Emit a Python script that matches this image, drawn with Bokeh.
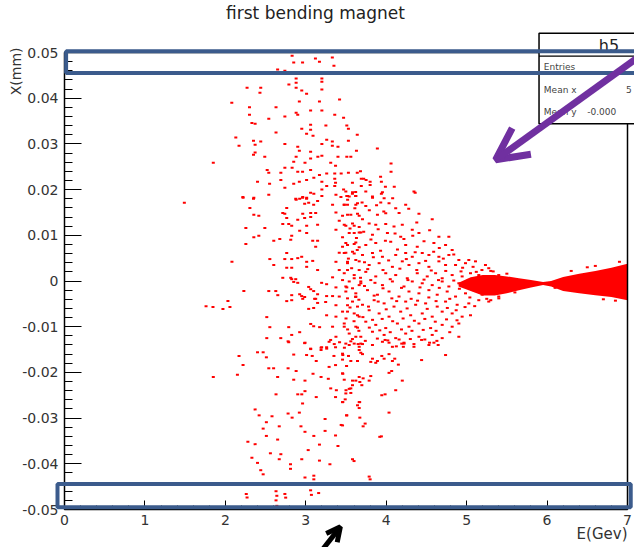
import math
from bokeh.plotting import figure
from bokeh.models import (FixedTicker, BoxAnnotation, Arrow, OpenHead, Label,
                          ColumnDataSource, Range1d)
from bokeh.embed import file_html
from bokeh.resources import INLINE

TITLE = "first bending magnet"
X_LABEL = "E(Gev)"
Y_LABEL = "X(mm)"
x_ticks = [0, 1, 2, 3, 4, 5, 6, 7]
y_ticks = [-0.05, -0.04, -0.03, -0.02, -0.01, 0, 0.01, 0.02, 0.03, 0.04, 0.05]
y_tick_labels = ["-0.05", "-0.04", "-0.03", "-0.02", "-0.01", "0",
                 "0.01", "0.02", "0.03", "0.04", "0.05"]

stats_title = "h5"
stats_names = ["Entries", "Mean x", "Mean y"]
stats_values = ["", "5", "-0.000"]

# --- scattered points (E [GeV], X), by region ---
pts_top = [
    (2.83, 0.0493), (3.12, 0.0487), (3.33, 0.0489), (2.85, 0.0478), (2.96, 0.0478),
    (3.17, 0.048), (3.35, 0.0471), (2.65, 0.0463), (2.74, 0.046), (2.60, 0.0456),
    (2.88, 0.0443), (3.20, 0.0443), (2.79, 0.043), (2.88, 0.0434), (3.20, 0.0436),
    (2.27, 0.0423), (2.44, 0.0423), (2.43, 0.0412), (2.88, 0.0423), (2.95, 0.0417),
    (3.01, 0.041), (3.20, 0.0419), (2.08, 0.039), (2.92, 0.0393), (3.17, 0.0393),
    (3.42, 0.0397), (2.30, 0.038), (2.63, 0.038), (2.88, 0.0368), (3.06, 0.0373),
    (3.20, 0.0373), (2.30, 0.0364), (2.74, 0.036), (2.90, 0.0364), (3.36, 0.0364),
    (3.47, 0.0357), (2.54, 0.0355), (2.33, 0.0346), (2.37, 0.0344), (3.06, 0.0342),
    (3.25, 0.034), (3.51, 0.034), (2.95, 0.0333), (3.06, 0.0331), (2.63, 0.0325),
    (3.01, 0.0322), (3.09, 0.0318), (3.53, 0.0333), (3.64, 0.032), (2.13, 0.0314),
    (2.35, 0.0307), (2.44, 0.0305), (3.26, 0.0309), (3.33, 0.0305), (3.53, 0.0307),
    (2.17, 0.0296), (2.37, 0.0298), (2.74, 0.03), (2.90, 0.0294), (3.20, 0.03),
    (3.33, 0.0296), (3.40, 0.0294), (2.92, 0.0285), (3.06, 0.0283), (3.63, 0.0285),
    (2.37, 0.0281), (2.35, 0.0276), (2.49, 0.0272), (2.88, 0.0272), (3.15, 0.0272),
    (3.20, 0.0274), (3.40, 0.0272), (3.51, 0.0272), (3.56, 0.0272), (1.85, 0.0259),
    (2.85, 0.0261), (2.99, 0.0259), (3.06, 0.0268), (3.31, 0.0259), (3.37, 0.0252),
    (2.74, 0.0248), (2.83, 0.0248), (3.06, 0.0243), (2.52, 0.0243), (2.54, 0.0237),
    (2.69, 0.0237), (2.90, 0.0239), (2.96, 0.0239), (3.17, 0.0232), (3.26, 0.0235),
    (3.36, 0.0235), (3.44, 0.0235), (3.53, 0.0237), (3.64, 0.0237), (3.10, 0.0226),
    (3.36, 0.0224), (3.69, 0.0224), (2.69, 0.0221), (2.40, 0.0217), (3.01, 0.0221),
    (2.92, 0.0217), (3.20, 0.0217), (3.37, 0.0215), (2.55, 0.0213), (2.85, 0.0213),
    (3.26, 0.0208), (3.36, 0.0208), (3.69, 0.0208), (2.74, 0.0204), (3.20, 0.02),
    (3.47, 0.02), (3.06, 0.0193), (2.54, 0.0189), (3.10, 0.0191), (3.58, 0.0191),
    (2.22, 0.0182), (2.35, 0.018), (2.96, 0.0182), (3.20, 0.0186), (3.51, 0.0186),
    (3.62, 0.0186), (2.88, 0.0178), (3.01, 0.018),
    (3.89, 0.029), (4.06, 0.0257), (4.06, 0.0239), (3.93, 0.0228), (3.94, 0.0217),
    (3.99, 0.0206), (4.10, 0.0206), (3.80, 0.021), (4.36, 0.0193), (3.94, 0.0191),
    (3.83, 0.0182), (3.62, 0.0195), (3.75, 0.0221), (3.80, 0.0217), (3.72, 0.0224),
    (3.58, 0.0215), (3.68, 0.024),
]

pts_mid_left = [
    (1.49, 0.0171), (2.255, 0.0081), (2.218, 0.0184), (2.354, 0.0182), (2.305, 0.016),
    (2.354, 0.0145), (2.416, 0.0143), (2.255, 0.0116), (2.491, 0.0116), (2.354, 0.0096),
    (2.416, 0.0099), (2.602, 0.0088), (2.677, 0.0092), (2.714, 0.0125), (2.763, 0.016),
    (2.714, 0.0149), (2.739, 0.0147), (2.763, 0.0138), (2.788, 0.0125), (2.825, 0.0121),
    (2.900, 0.0134), (2.825, 0.0099), (2.813, 0.009), (2.924, 0.011), (3.011, 0.0121),
    (2.875, 0.018), (2.924, 0.018), (2.962, 0.0184), (3.011, 0.0182), (3.036, 0.0171),
    (2.986, 0.0169), (3.147, 0.0175), (3.098, 0.0167), (2.962, 0.0147), (3.061, 0.0149),
    (3.123, 0.0149), (2.986, 0.0138), (3.061, 0.014), (3.147, 0.0123), (3.011, 0.0105),
    (3.086, 0.0088), (3.147, 0.0088), (3.123, 0.0075), (2.082, 0.0042), (2.763, 0.0061),
    (2.739, 0.0048), (2.553, 0.0048), (2.602, 0.0035), (2.825, 0.0048), (2.900, 0.005),
    (2.949, 0.0053), (3.011, 0.0042), (2.763, 0.0029), (2.825, 0.0029), (2.714, 0.0007),
    (2.813, 0.0007), (2.825, 0.0004), (2.875, 0.0004), (2.850, -0.0002), (2.900, -0.0004),
    (3.011, 0.0031), (3.086, 0.0044), (3.147, 0.0024), (3.197, -0.0004), (3.259, -0.0007),
    (3.036, -0.0013), (2.230, -0.0022), (2.540, -0.0022), (2.627, -0.0022), (2.652, -0.0031),
    (2.825, -0.0031), (2.924, -0.0029), (2.949, -0.0033), (2.986, -0.0035), (2.962, -0.0039),
    (3.110, -0.0039), (3.123, -0.0039), (3.061, -0.0018), (3.098, -0.0022), (3.147, -0.0029),
    (3.259, -0.0033), (3.333, -0.0033), (2.763, -0.0044), (2.825, -0.0042), (2.032, -0.0044),
    (1.760, -0.0055), (1.846, -0.0057), (1.970, -0.0061), (2.057, -0.0057), (3.036, -0.0061),
    (3.098, -0.0059), (3.147, -0.0048), (3.247, -0.0046), (2.515, -0.0079), (2.553, -0.0101),
    (2.788, -0.0101), (2.924, -0.0112), (2.825, -0.0118), (3.061, -0.0094), (3.098, -0.0099),
    (3.172, -0.0101), (3.259, -0.0075), (2.515, -0.0125), (2.689, -0.0125), (2.788, -0.0134),
    (2.986, -0.0136), (3.061, -0.0149), (3.197, -0.0145), (3.259, -0.0145), (3.309, -0.0129),
    (3.375, 0.0189), (3.437, 0.0184), (3.519, 0.0186), (3.622, 0.0186), (3.333, 0.0167),
    (3.478, 0.0167), (3.519, 0.0167), (3.622, 0.0167), (3.375, 0.015), (3.457, 0.0143),
    (3.560, 0.0145), (3.664, 0.0143), (3.416, 0.0132), (3.498, 0.0121), (3.602, 0.0121),
    (3.664, 0.0118), (3.375, 0.0112), (3.457, 0.0096), (3.602, 0.0105), (3.684, 0.0106),
    (3.457, 0.0075), (3.519, 0.0079), (3.602, 0.0081), (3.664, 0.0074), (3.416, 0.0062),
    (3.498, 0.0062), (3.602, 0.006), (3.375, 0.0042), (3.519, 0.0042), (3.622, 0.0046),
    (3.416, 0.0024), (3.519, 0.0024), (3.664, 0.0024), (3.333, 0.0008), (3.457, 0.0002),
    (3.602, 0.0006), (3.684, -0.0001), (3.375, -0.0014), (3.498, -0.0012), (3.581, -0.0016),
    (3.664, -0.0009), (3.416, -0.0034), (3.519, -0.0038), (3.622, -0.0034), (3.375, -0.0053),
    (3.519, -0.0053), (3.643, -0.0056), (3.457, -0.0067), (3.602, -0.0071), (3.375, -0.0078),
    (3.664, -0.0078), (3.333, -0.01), (3.478, -0.01), (3.643, -0.0102), (3.375, -0.0122),
    (3.622, -0.0122), (3.354, -0.0138), (3.540, -0.014), (3.684, -0.0137),
]

pts_mid_right = [
    (3.498, 0.0196), (3.581, 0.0194), (3.746, 0.0196), (3.953, 0.0194), (4.345, 0.0196),
    (3.540, 0.0185), (3.829, 0.0185), (3.974, 0.0181), (3.478, 0.0167), (3.643, 0.017),
    (3.746, 0.0164), (3.932, 0.0172), (4.035, 0.017), (4.242, 0.0167), (4.118, 0.0159),
    (3.519, 0.0145), (3.643, 0.0147), (3.891, 0.0145), (3.994, 0.0148), (4.407, 0.0147),
    (4.572, 0.0135), (3.705, 0.0135), (3.478, 0.0123), (3.581, 0.0126), (3.788, 0.0126),
    (3.870, 0.0123), (3.994, 0.0125), (4.097, 0.0119), (4.200, 0.0123), (4.324, 0.0112),
    (3.540, 0.0105), (3.664, 0.0106), (3.829, 0.0101), (4.015, 0.0105), (4.180, 0.0097),
    (4.407, 0.0105), (4.655, 0.0097), (4.779, 0.0097), (3.498, 0.0083), (3.622, 0.0084),
    (3.746, 0.0079), (3.870, 0.0083), (4.056, 0.0086), (4.242, 0.0079), (4.386, 0.0075),
    (4.593, 0.0083), (4.738, 0.0079), (4.820, 0.0068), (3.478, 0.0061), (3.581, 0.0064),
    (3.705, 0.0057), (3.829, 0.0061), (3.953, 0.0053), (4.118, 0.0057), (4.242, 0.0061),
    (4.324, 0.0053), (4.448, 0.0061), (4.531, 0.0057), (4.655, 0.0053), (4.779, 0.0057),
    (4.903, 0.0046), (5.027, 0.0046), (3.519, 0.0039), (3.664, 0.0043), (3.788, 0.0035),
    (3.912, 0.0039), (4.077, 0.0031), (4.200, 0.0043), (4.283, 0.0035), (4.407, 0.0039),
    (4.531, 0.0031), (4.655, 0.0043), (4.738, 0.0035), (4.862, 0.0035), (4.986, 0.0039),
    (5.110, 0.0043), (5.234, 0.0035), (5.275, 0.0028), (3.478, 0.0017), (3.602, 0.0013),
    (3.746, 0.002), (3.870, 0.001), (3.994, 0.0017), (4.118, 0.0013), (4.262, 0.0006),
    (4.386, 0.0017), (4.510, 0.001), (4.614, 0.0017), (4.696, 0.0006), (4.820, 0.0013),
    (4.944, 0.001), (5.048, 0.0017), (5.151, 0.0013), (5.275, 0.001), (5.399, 0.0013),
    (3.540, -0.0001), (3.684, -0.0005), (3.808, 0.0002), (3.953, -0.0009), (4.077, -0.0001),
    (4.221, -0.0012), (4.324, -0.0001), (4.448, -0.0005), (4.572, -0.0009), (4.696, -0.0001),
    (4.779, -0.0012), (4.903, -0.0005), (5.006, -0.0009), (5.110, -0.0012), (5.213, -0.0001),
    (5.337, -0.0009), (5.440, -0.0005), (3.498, -0.0023), (3.622, -0.0027), (3.767, -0.002),
    (3.891, -0.003), (4.035, -0.0023), (4.159, -0.0034), (4.283, -0.0023), (4.407, -0.0027),
    (4.531, -0.002), (4.634, -0.003), (4.758, -0.0023), (4.862, -0.0034), (4.986, -0.0027),
    (5.089, -0.002), (5.192, -0.003), (5.316, -0.0023), (5.399, -0.0034), (3.581, -0.0045),
    (3.705, -0.0052), (3.850, -0.0042), (3.974, -0.0049), (4.097, -0.0056), (4.242, -0.0045),
    (4.366, -0.0052), (4.490, -0.0049), (4.634, -0.0056), (4.738, -0.0045), (4.882, -0.0052),
    (5.027, -0.0049), (5.151, -0.0042), (5.275, -0.0045), (3.519, -0.0067), (3.643, -0.0075),
    (3.788, -0.0064), (3.912, -0.0071), (4.035, -0.0078), (4.180, -0.0067), (4.304, -0.0075),
    (4.448, -0.0071), (4.572, -0.0078), (4.696, -0.0067), (4.820, -0.0071), (4.944, -0.0078),
    (5.048, -0.0075), (3.478, -0.0093), (3.622, -0.01), (3.746, -0.0089), (3.870, -0.0096),
    (3.994, -0.0103), (4.139, -0.0093), (4.283, -0.01), (4.407, -0.0093), (4.552, -0.0103),
    (4.696, -0.0096), (4.820, -0.01), (4.903, -0.0093), (3.540, -0.0115), (3.684, -0.0122),
    (3.829, -0.0111), (3.974, -0.0118), (4.118, -0.0125), (4.242, -0.0115), (4.407, -0.0122),
    (4.572, -0.0118), (4.696, -0.0125), (4.903, -0.0122), (3.498, -0.0137), (3.664, -0.0144),
    (3.829, -0.014), (3.953, -0.0133), (4.077, -0.0144), (4.221, -0.0137), (4.345, -0.0144),
    (4.531, -0.014),
    (5.30, 0.0022), (5.50, 0.0016), (5.30, -0.0042), (5.40, -0.0038), (5.60, -0.0025),
    (6.30, 0.0022), (6.50, 0.003), (6.70, -0.004), (6.90, 0.0042), (6.85, -0.0043),
    (6.10, -0.0015), (6.60, 0.0033),
]

pts_core = [
    (3.52, 0.0178), (3.61, 0.0159), (3.70, 0.0172), (3.79, 0.0155), (3.88, 0.0166),
    (3.97, 0.0152), (4.08, 0.0181), (4.16, 0.0149), (4.28, 0.0158), (4.38, 0.0128),
    (3.55, 0.0115), (3.63, 0.0094), (3.72, 0.0108), (3.81, 0.0091), (3.90, 0.0113),
    (3.99, 0.0088), (4.11, 0.0104), (4.22, 0.0092), (4.33, 0.0099), (4.47, 0.0087),
    (4.54, 0.0111), (4.66, 0.0072), (3.53, 0.0049), (3.64, 0.0068), (3.73, 0.0041),
    (3.84, 0.0052), (3.93, 0.0066), (4.03, 0.0045), (4.14, 0.0069), (4.25, 0.0048),
    (4.36, 0.0063), (4.49, 0.0044), (4.59, 0.0064), (4.71, 0.0049), (4.84, 0.0058),
    (4.95, 0.0029), (5.08, 0.0031), (5.19, 0.0024), (3.57, 0.0028), (3.68, 0.0007),
    (3.77, 0.0026), (3.86, -0.0004), (3.96, 0.0024), (4.05, 0.0004), (4.17, 0.0027),
    (4.27, 0.0002), (4.38, 0.0024), (4.47, 0.0003), (4.56, 0.0023), (4.65, 0.0002),
    (4.74, 0.0022), (4.84, 0.0001), (4.93, 0.0021), (5.02, 0.0002), (5.12, 0.0020),
    (5.23, 0.0004), (5.33, 0.0021), (3.51, -0.0014), (3.62, -0.0035), (3.73, -0.0011),
    (3.85, -0.0032), (3.96, -0.0016), (4.07, -0.0038), (4.19, -0.0015), (4.31, -0.0039),
    (4.42, -0.0014), (4.53, -0.0036), (4.66, -0.0015), (4.79, -0.0039), (4.91, -0.0017),
    (5.04, -0.0036), (5.14, -0.0021), (5.25, -0.0039), (5.36, -0.0027), (3.55, -0.0058),
    (3.66, -0.0041), (3.78, -0.0056), (3.90, -0.0045), (4.00, -0.0062), (4.13, -0.0044),
    (4.26, -0.0060), (4.39, -0.0043), (4.51, -0.0061), (4.62, -0.0044), (4.76, -0.0059),
    (4.87, -0.0064), (4.98, -0.0057), (5.10, -0.0055), (3.50, -0.0082), (3.60, -0.0088),
    (3.71, -0.0079), (3.83, -0.0085), (3.95, -0.0083), (4.08, -0.0088), (4.21, -0.0082),
    (4.35, -0.0087), (4.48, -0.0083), (4.61, -0.0089), (4.75, -0.0084), (4.88, -0.0086),
    (3.52, -0.0106), (3.66, -0.0109), (3.79, -0.0102), (3.92, -0.0108), (4.05, -0.0112),
    (4.19, -0.0106), (4.32, -0.0109), (4.46, -0.0107), (4.62, -0.0109), (4.79, -0.0112),
    (3.58, -0.0127), (3.74, -0.0131), (3.89, -0.0126), (4.02, -0.0130), (4.16, -0.0128),
    (4.30, -0.0127), (4.48, -0.0128), (4.63, -0.0131),
]

pts_bottom = [
    (3.560, -0.0132), (3.602, -0.0137), (3.651, -0.0138), (3.705, -0.0138), (3.986, -0.0129),
    (4.035, -0.0135), (4.126, -0.0143), (4.193, -0.0137), (4.221, -0.0135), (4.213, -0.0144),
    (4.345, -0.0138), (4.440, -0.0129), (4.539, -0.0135), (4.593, -0.0135), (4.646, -0.014),
    (4.738, -0.0162), (4.440, -0.0173), (3.457, -0.0159), (3.531, -0.0164), (3.664, -0.0151),
    (3.684, -0.0157), (3.705, -0.016), (3.829, -0.017), (3.891, -0.0175), (3.945, -0.0164),
    (3.974, -0.017), (4.035, -0.016), (4.106, -0.017), (4.077, -0.0175), (4.151, -0.0183),
    (3.457, -0.0172), (3.507, -0.0186), (3.560, -0.0175), (3.643, -0.0175), (3.808, -0.0177),
    (3.870, -0.0179), (3.457, -0.0202), (3.664, -0.021), (3.713, -0.0213), (3.808, -0.0208),
    (4.035, -0.0201), (4.068, -0.0197), (4.200, -0.0218), (3.478, -0.0216), (3.581, -0.0218),
    (3.622, -0.0218), (3.672, -0.0221), (3.788, -0.0218), (3.560, -0.0235), (3.581, -0.0228),
    (3.697, -0.0228), (3.498, -0.0246), (3.560, -0.0245), (3.457, -0.0265), (3.490, -0.0259),
    (3.945, -0.025), (3.986, -0.0248), (4.118, -0.0239), (3.664, -0.0265), (3.643, -0.0272),
    (3.664, -0.0278), (4.035, -0.0288), (3.507, -0.0294), (3.672, -0.0299), (3.738, -0.0312),
    (3.713, -0.0318), (3.457, -0.0316), (3.920, -0.0341), (3.581, -0.039), (3.788, -0.0428),
    (2.78, -0.0132), (2.99, -0.0135), (3.29, -0.0133), (3.42, -0.0134), (3.06, -0.0148),
    (3.19, -0.0146), (3.26, -0.0148), (3.37, -0.0145), (3.48, -0.0146), (2.40, -0.0156),
    (2.47, -0.0156), (2.17, -0.0164), (2.51, -0.0167), (2.85, -0.0161), (3.01, -0.0162),
    (3.08, -0.0164), (3.19, -0.0151), (3.35, -0.0164), (3.46, -0.0162), (2.22, -0.0184),
    (3.13, -0.0175), (2.54, -0.0191), (2.60, -0.0191), (2.78, -0.0191), (2.88, -0.0197),
    (3.29, -0.0188), (3.37, -0.0184), (1.85, -0.021), (2.15, -0.0205), (2.65, -0.021),
    (3.09, -0.0203), (3.19, -0.021), (3.28, -0.0214), (2.85, -0.0216), (2.99, -0.0218),
    (3.46, -0.0203), (2.63, -0.0248), (2.90, -0.0248), (2.95, -0.0248), (2.99, -0.0241),
    (3.13, -0.0254), (3.31, -0.0235), (3.38, -0.0239), (3.50, -0.0239), (3.54, -0.0236),
    (3.37, -0.0254), (3.46, -0.0265), (3.67, -0.0265), (2.96, -0.0268), (2.37, -0.0281),
    (2.42, -0.0294), (2.78, -0.029), (2.92, -0.0288), (2.58, -0.0296), (2.83, -0.0299),
    (3.24, -0.0302), (3.51, -0.0294), (2.51, -0.0309), (2.67, -0.0318), (2.94, -0.0318),
    (3.44, -0.0315), (2.47, -0.0323), (2.99, -0.033), (3.24, -0.0328), (2.51, -0.0339),
    (3.10, -0.0339), (3.37, -0.0338), (2.65, -0.0347), (2.28, -0.0352), (2.37, -0.0357),
    (3.17, -0.0358), (3.40, -0.0361), (3.03, -0.037), (2.56, -0.0377), (2.69, -0.0379),
    (2.33, -0.0387), (2.67, -0.039), (2.95, -0.039), (3.17, -0.0393), (2.40, -0.0398),
    (2.81, -0.0401), (3.30, -0.0401), (2.44, -0.0414), (2.81, -0.0411), (2.47, -0.0423),
    (2.99, -0.043), (3.10, -0.0426), (3.10, -0.0434), (3.17, -0.0444), (3.06, -0.0458),
    (2.26, -0.0466), (2.63, -0.046), (2.74, -0.0466), (2.63, -0.048), (3.80, -0.0434),
    (3.94, -0.034), (3.60, -0.0394), (2.27, -0.0474), (2.64, -0.047), (2.75, -0.0474),
    (2.64, -0.0492), (3.07, -0.0468), (3.16, -0.0464),
]

# dense core of the distribution (upper / lower envelope)
band_e = [4.9, 5.05, 5.2, 5.35, 5.5, 5.65, 5.8, 5.95, 6.05, 6.2, 6.4, 6.6, 6.8, 7.0]
band_hi = [-0.0004, 0.0008, 0.0013, 0.0013, 0.001, 0.0006, 0.0002, -0.0002, 0.0,
           0.0009, 0.0016, 0.0022, 0.0029, 0.0038]
band_lo = [-0.0012, -0.0022, -0.0032, -0.0032, -0.0027, -0.002, -0.0014, -0.0009,
           -0.0012, -0.0022, -0.0027, -0.0031, -0.0035, -0.0042]

all_pts = pts_top + pts_mid_left + pts_mid_right + pts_core + pts_bottom
src = ColumnDataSource(dict(e=[q[0] for q in all_pts], x=[q[1] for q in all_pts]))

FONT = "DejaVu Sans"
W, H = 634, 547
# frame of the data area inside the canvas (pixels), ROOT-like margins
FL, FR, FT, FB = 64, 627, 52, 509
x0, x1 = x_ticks[0], x_ticks[-1]
y0, y1 = y_ticks[0], y_ticks[-1]
sx = (FR - FL) / (x1 - x0)
sy = (FB - FT) / (y1 - y0)
xr = Range1d(x0 - FL / sx, x1 + (W - FR) / sx)
yr = Range1d(y0 - (H - FB) / sy, y1 + FT / sy)

p = figure(width=W, height=H, x_range=xr, y_range=yr, output_backend="svg",
           toolbar_location=None, min_border=0)
p.title.visible = False
p.outline_line_color = None
p.background_fill_color = "white"
p.border_fill_color = "white"
p.xgrid.visible = False
p.ygrid.visible = False

p.xaxis.fixed_location = y0
p.yaxis.fixed_location = x0
p.xaxis.bounds = (x0, x1)
p.yaxis.bounds = (y0, y1)
p.xaxis.ticker = FixedTicker(ticks=x_ticks, minor_ticks=[i * 0.2 for i in range(36)])
p.yaxis.ticker = FixedTicker(ticks=y_ticks, minor_ticks=[-0.05 + i * 0.002 for i in range(51)])
p.yaxis.major_label_overrides = dict(zip(y_ticks, y_tick_labels))
for ax in (p.xaxis, p.yaxis):
    ax.axis_line_color = "black"
    ax.major_tick_line_color = "black"
    ax.minor_tick_line_color = "black"
    ax.major_tick_out = 0
    ax.minor_tick_out = 0
    ax.major_label_text_font = FONT
    ax.major_label_text_font_size = "14px"
    ax.major_label_text_color = "#333333"
p.xaxis.major_tick_in = 9
p.xaxis.minor_tick_in = 4
p.yaxis.major_tick_in = 17
p.yaxis.minor_tick_in = 8
p.xaxis.major_label_standoff = 5
p.yaxis.major_label_standoff = 6

# data
p.varea(x=band_e, y1=band_lo, y2=band_hi, fill_color="red")
p.rect(x="e", y="x", width=3, height=2, width_units="screen", height_units="screen",
       fill_color="red", line_color=None, source=src)

# frame box
p.quad(left=[x0], right=[x1], bottom=[y0], top=[y1], fill_color=None,
       line_color="black", line_width=1.5)

# titles
p.add_layout(Label(x=(x0 + x1) / 2 - 0.38, y=y1 + 40 / sy, text=TITLE, text_align="center",
                   text_baseline="middle", text_font=FONT, text_font_size="17px",
                   text_color="#222222"))
p.add_layout(Label(x=x0 - 49 / sx, y=y1 + 5 / sy, text=Y_LABEL, angle=math.pi / 2,
                   text_align="right", text_baseline="middle", text_font=FONT,
                   text_font_size="14px", text_color="#333333"))
p.add_layout(Label(x=x1, y=y0 - 24 / sy, text=X_LABEL, text_align="right",
                   text_baseline="middle", text_font=FONT, text_font_size="15px",
                   text_color="#333333"))

# stats box
p.add_layout(BoxAnnotation(left=5.90, right=7.35, top=0.0542, bottom=0.0344,
                           fill_color="white", fill_alpha=1.0, line_alpha=1.0,
                           line_color="black", line_width=1.5))
p.add_layout(Arrow(end=None, x_start=5.90, y_start=0.0492, x_end=7.35, y_end=0.0492,
                   line_color="black", line_width=1.2))
p.add_layout(Label(x=6.77, y=0.0516, text=stats_title, text_align="center",
                   text_baseline="middle", text_font=FONT, text_font_size="16px",
                   text_color="#222222"))
for name, val, yy in zip(stats_names, stats_values, [0.0468, 0.0418, 0.0370]):
    p.add_layout(Label(x=5.96, y=yy, text=name, text_baseline="middle", text_font=FONT,
                       text_font_size="9px", text_color="#444444"))
    if val:
        p.add_layout(Label(x=6.50 if val.startswith("-") else 6.98, y=yy, text=val,
                           text_baseline="middle", text_font=FONT,
                           text_font_size="9px", text_color="#444444"))

# highlight rectangles
BLUE = "#3b5b8c"
p.add_layout(BoxAnnotation(left=0.02, right=7.2, top=0.0503, bottom=0.0455,
                           fill_alpha=0, line_alpha=1.0, line_color=BLUE, line_width=4))
p.add_layout(BoxAnnotation(left=-0.087, right=7.04, top=-0.0444, bottom=-0.0495,
                           fill_alpha=0, line_alpha=1.0, line_color=BLUE, line_width=4))

# arrows
PURPLE = "#7030a0"
p.add_layout(Arrow(end=OpenHead(size=32, line_color=PURPLE, line_width=7),
                   x_start=7.12, y_start=0.0488, x_end=5.36, y_end=0.0265,
                   line_color=PURPLE, line_width=7))
p.add_layout(Arrow(end=OpenHead(size=14, line_color="black", line_width=5),
                   x_start=3.22, y_start=-0.0585, x_end=3.43, y_end=-0.0538,
                   line_color="black", line_width=5))

open("out.html", "w").write(file_html(p, INLINE))
